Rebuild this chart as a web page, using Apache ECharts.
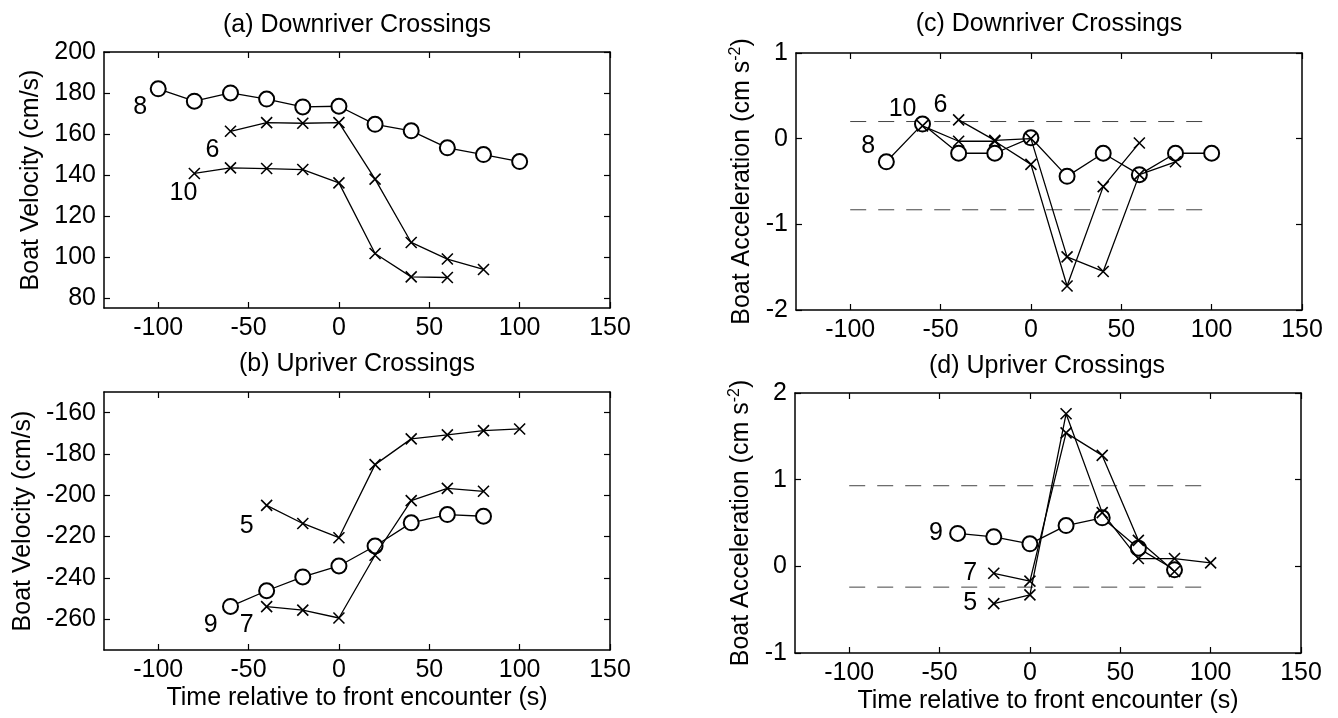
<!DOCTYPE html>
<html><head><meta charset="utf-8">
<script src="https://cdn.jsdelivr.net/npm/echarts@6/dist/echarts.min.js"></script>
<style>html,body{margin:0;padding:0;background:#fff}#c{width:1338px;height:718px}</style>
</head><body><div id="c"></div>
<script>
// ---------- data ----------
const xTicks = [-100, -50, 0, 50, 100, 150];
// (a) Downriver velocity
const tA8 = [-100, -80, -60, -40, -20, 0, 20, 40, 60, 80, 100];
const vA8 = [182, 176, 180, 177, 173.2, 173.5, 164.7, 161.5, 153.2, 149.9, 146.5];
const tA6 = [-60, -40, -20, 0, 20, 40, 60, 80];
const vA6 = [161.3, 165.5, 165.2, 165.5, 137.9, 107, 98.9, 93.8];
const tA10 = [-80, -60, -40, -20, 0, 20, 40, 60];
const vA10 = [140.7, 143.4, 143.1, 142.6, 136.1, 101.6, 90.2, 89.9];
const yTicksA = [80, 100, 120, 140, 160, 180, 200];
const labelsA = [['8', -110, 173], ['6', -70, 152], ['10', -86, 131]];
// (b) Upriver velocity
const tB5 = [-40, -20, 0, 20, 40, 60, 80, 100];
const vB5 = [-204.9, -213.7, -220.6, -185.2, -172.7, -170.8, -168.7, -167.9];
const tB7 = [-40, -20, 0, 20, 40, 60, 80];
const vB7 = [-254, -255.7, -259.5, -229.1, -202.6, -196.7, -198.1];
const tB9 = [-60, -40, -20, 0, 20, 40, 60, 80];
const vB9 = [-253.9, -246.3, -239.6, -234.3, -224.6, -213.4, -209.4, -210.2];
const yTicksB = [-260, -240, -220, -200, -180, -160];
const labelsB = [['5', -51, -215], ['9', -71, -263], ['7', -51, -263]];
// (c) Downriver acceleration
const tC8 = [-80, -60, -40, -20, 0, 20, 40, 60, 80, 100];
const aC8 = [-0.27, 0.17, -0.17, -0.17, 0.01, -0.44, -0.17, -0.42, -0.17, -0.17];
const tC6 = [-40, -20, 0, 20, 40, 60, 80];
const aC6 = [0.22, -0.02, 0.0, -1.38, -1.55, -0.42, -0.27];
const tC10 = [-60, -40, -20, 0, 20, 40, 60];
const aC10 = [0.15, -0.03, -0.03, -0.3, -1.72, -0.56, -0.05];
const dashC = [0.2, -0.83];
const yTicksC = [-2, -1, 0, 1];
const labelsC = [['8', -90, -0.09], ['10', -71, 0.34], ['6', -50, 0.39]];
// (d) Upriver acceleration
const tD9 = [-40, -20, 0, 20, 40, 60, 80];
const aD9 = [0.38, 0.34, 0.26, 0.47, 0.56, 0.21, -0.04];
const tD5 = [-20, 0, 20, 40, 60, 80, 100];
const aD5 = [-0.43, -0.33, 1.76, 0.62, 0.09, 0.09, 0.04];
const tD7 = [-20, 0, 20, 40, 60, 80];
const aD7 = [-0.08, -0.17, 1.54, 1.28, 0.3, -0.06];
const dashD = [0.93, -0.24];
const yTicksD = [-1, 0, 1, 2];
const labelsD = [['9', -52, 0.38], ['7', -33, -0.08], ['5', -33, -0.42]];
const dashX = [-100, 100];

// ---------- chart ----------
const FONT = '"Liberation Sans", Arial, sans-serif';
const zip = (a, b) => a.map((v, i) => [v, b[i]]);
const CROSS = 'path://M0,0L10,10M0,10L10,0';

const panels = [
  {grid: {left: 104, top: 52, width: 506, height: 256}, ymin: 75, ymax: 200, yt: yTicksA,
   title: '(a) Downriver Crossings', tx: 357, ty: 25, yname: 'Boat Velocity (cm/s)', ygap: 60, xname: ''},
  {grid: {left: 104, top: 392, width: 506, height: 258}, ymin: -275, ymax: -150, yt: yTicksB,
   title: '(b) Upriver Crossings', tx: 357, ty: 364, yname: 'Boat Velocity (cm/s)', ygap: 68, xname: 'Time relative to front encounter (s)'},
  {grid: {left: 796, top: 53, width: 506, height: 257}, ymin: -2, ymax: 1, yt: yTicksC,
   title: '(c) Downriver Crossings', tx: 1049, ty: 24, yname: 'Boat Acceleration (cm s{sup|-2})', ygap: 40, xname: ''},
  {grid: {left: 795, top: 393, width: 506, height: 260}, ymin: -1, ymax: 2, yt: yTicksD,
   title: '(d) Upriver Crossings', tx: 1047, ty: 366, yname: 'Boat Acceleration (cm s{sup|-2})', ygap: 40, xname: 'Time relative to front encounter (s)'}
];

const grid = [], xAxis = [], yAxis = [], graphic = [];
const lineStyleAxis = {color: '#000', width: 1.5};
panels.forEach((p, i) => {
  grid.push(p.grid);
  const base = (ticks, showLabel) => ({
    type: 'value',
    axisLine: {show: true, onZero: false, lineStyle: lineStyleAxis},
    axisTick: {show: true, inside: true, length: 6, customValues: ticks, lineStyle: {color: '#000', width: 1.2}},
    axisLabel: {show: showLabel, customValues: ticks, margin: 8, fontSize: 25, color: '#000', fontFamily: FONT},
    splitLine: {show: false}
  });
  xAxis.push(Object.assign(base(xTicks, true), {gridIndex: i, position: 'bottom', min: -130, max: 150,
    name: p.xname, nameLocation: 'middle', nameGap: 36,
    nameTextStyle: {fontSize: 25, color: '#000', fontFamily: FONT}}));
  xAxis.push(Object.assign(base(xTicks, false), {gridIndex: i, position: 'top', min: -130, max: 150}));
  yAxis.push(Object.assign(base(p.yt, true), {gridIndex: i, position: 'left', min: p.ymin, max: p.ymax,
    name: p.yname, nameLocation: 'middle', nameGap: p.ygap,
    nameTextStyle: {fontSize: 25, color: '#000', fontFamily: FONT,
      rich: {sup: {fontSize: 16, color: '#000', fontFamily: FONT, verticalAlign: 'bottom', padding: [0, 0, 12, 0]}}}}));
  yAxis.push(Object.assign(base(p.yt, false), {gridIndex: i, position: 'right', min: p.ymin, max: p.ymax}));
  graphic.push({type: 'text', x: p.tx, y: p.ty,
    style: {text: p.title, font: '25px ' + FONT, fill: '#000', textAlign: 'center', textVerticalAlign: 'middle'}});
});

const series = [];
function addLine(i, t, v, kind) {
  const circle = kind === 'o';
  series.push({
    type: 'line', xAxisIndex: 2 * i, yAxisIndex: 2 * i, data: zip(t, v),
    symbol: circle ? 'emptyCircle' : CROSS, symbolSize: circle ? 15 : 11,
    showSymbol: true, silent: true, z: circle ? 2 : 3,
    lineStyle: {color: '#000', width: 1.3},
    itemStyle: {color: circle ? '#000' : 'rgba(0,0,0,0)', borderColor: '#000', borderWidth: circle ? 1.4 : 1.6}
  });
}
function addDash(i, y) {
  series.push({
    type: 'line', xAxisIndex: 2 * i, yAxisIndex: 2 * i, data: zip(dashX, [y, y]),
    symbol: 'none', silent: true, z: 1,
    lineStyle: {color: '#444', width: 1, type: [16, 12]}
  });
}
function addLabels(i, labels) {
  series.push({
    type: 'scatter', xAxisIndex: 2 * i, yAxisIndex: 2 * i, silent: true, z: 5,
    data: labels.map(l => ({name: l[0], value: [l[1], l[2]]})),
    symbolSize: 1, itemStyle: {color: 'rgba(0,0,0,0)', opacity: 1},
    label: {show: true, position: 'inside', formatter: '{b}', fontSize: 25, color: '#000', opacity: 1, fontFamily: FONT}
  });
}
addLine(0, tA8, vA8, 'o'); addLine(0, tA6, vA6, 'x'); addLine(0, tA10, vA10, 'x'); addLabels(0, labelsA);
addLine(1, tB9, vB9, 'o'); addLine(1, tB5, vB5, 'x'); addLine(1, tB7, vB7, 'x'); addLabels(1, labelsB);
addDash(2, dashC[0]); addDash(2, dashC[1]);
addLine(2, tC8, aC8, 'o'); addLine(2, tC6, aC6, 'x'); addLine(2, tC10, aC10, 'x'); addLabels(2, labelsC);
addDash(3, dashD[0]); addDash(3, dashD[1]);
addLine(3, tD9, aD9, 'o'); addLine(3, tD5, aD5, 'x'); addLine(3, tD7, aD7, 'x'); addLabels(3, labelsD);

const chart = echarts.init(document.getElementById('c'), null, {renderer: 'canvas'});
chart.setOption({animation: false, backgroundColor: '#fff', grid, xAxis, yAxis, series, graphic});
</script></body></html>
